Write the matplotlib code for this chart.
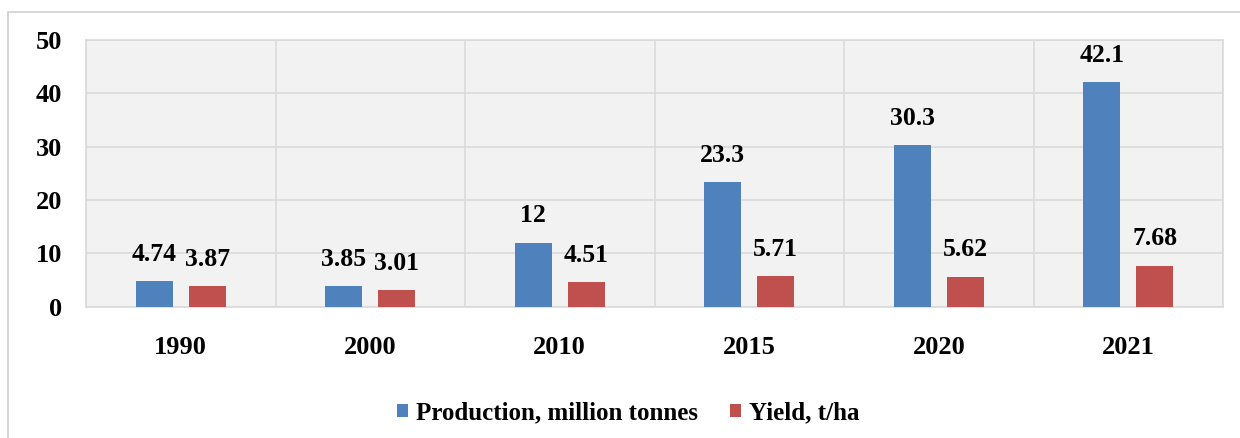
import matplotlib.pyplot as plt
from matplotlib.patches import Rectangle
import numpy as np

years = ['1990', '2000', '2010', '2015', '2020', '2021']
production = [4.74, 3.85, 12, 23.3, 30.3, 42.1]
yield_tha = [3.87, 3.01, 4.51, 5.71, 5.62, 7.68]
production_labels = ['4.74', '3.85', '12', '23.3', '30.3', '42.1']
yield_labels = ['3.87', '3.01', '4.51', '5.71', '5.62', '7.68']

blue = '#4F81BD'
red = '#C0504D'

plt.rcParams['font.family'] = ['Liberation Serif', 'DejaVu Serif']
plt.rcParams['font.weight'] = 'bold'

fig = plt.figure(figsize=(12.4, 4.38), dpi=100)
fig.patch.set_facecolor('white')

# outer chart frame (runs off the right and bottom edges)
fig.add_artist(Rectangle((8 / 1240, -0.2), 1.2, 1.2 - 12 / 438,
                         transform=fig.transFigure, fill=False,
                         edgecolor='#d0d0d0', linewidth=1.2))

ax = fig.add_axes([86 / 1240, 1 - 306.5 / 438, (1223 - 86) / 1240, (306.5 - 40) / 438])
ax.set_facecolor('#f2f2f2')

x = np.arange(len(years))
w = 0.195
off = 0.14
b1 = ax.bar(x - off, production, w, color=blue, label='Production, million tonnes', zorder=3)
b2 = ax.bar(x + off, yield_tha, w, color=red, label='Yield, t/ha', zorder=3)

for bars, labels in ((b1, production_labels), (b2, yield_labels)):
    for r, t in zip(bars, labels):
        ax.annotate(t, (r.get_x() + r.get_width() / 2, r.get_height()),
                    xytext=(0, 11), textcoords='offset points',
                    ha='center', va='bottom', fontsize=18.5, fontweight='bold')

ax.set_xlim(-0.5, len(years) - 0.5)
ax.set_ylim(0, 50)
ax.set_yticks(range(0, 51, 10))
ax.set_xticks(x)
ax.set_xticklabels(years)
ax.set_xticks(np.arange(-0.5, len(years)), minor=True)
ax.grid(axis='y', color='#dadada', linewidth=1.2, zorder=0)
ax.grid(axis='x', which='minor', color='#dadada', linewidth=1.2, zorder=0)
ax.tick_params(axis='both', which='both', length=0, labelsize=19)
ax.tick_params(axis='y', pad=17)
ax.tick_params(axis='x', pad=21)
for s in ax.spines.values():
    s.set_color('#dadada')
    s.set_linewidth(1.2)

fig.legend(handles=[b1, b2], loc='center', bbox_to_anchor=(628 / 1240, 1 - 413 / 438),
           ncol=2, frameon=False, fontsize=18, handlelength=0.45, handleheight=0.45,
           handletextpad=0.3, columnspacing=1.3)

fig.savefig('out.png', dpi=100)
